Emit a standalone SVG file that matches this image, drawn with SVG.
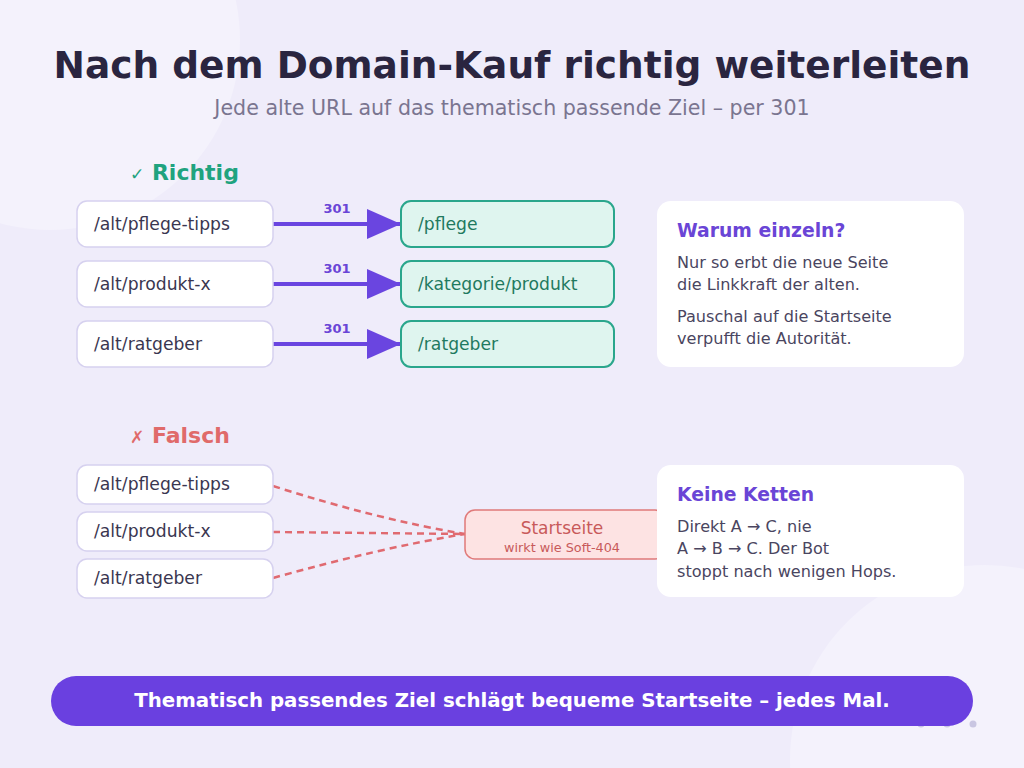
<svg xmlns="http://www.w3.org/2000/svg" width="1024" height="768" viewBox="0 0 1024 768">
<defs>
<style>
text{font-family:"DejaVu Sans","Liberation Sans",sans-serif}
.src rect{fill:#ffffff;stroke:#d6d1ef;stroke-width:1.5}
.src text{font-size:17.2px;fill:#3a3650}
.dst rect{fill:#dff5ef;stroke:#2aa68c;stroke-width:2}
.dst text{font-size:17.2px;fill:#1f7a60}
.card rect{fill:#ffffff}
.card .h{font-size:18.8px;font-weight:bold;fill:#6a45d6}
.card .b{font-size:16.1px;fill:#4a4560}
.lbl{font-size:13px;font-weight:bold;fill:#6a45d6;text-anchor:middle}
.ok{stroke:#6a45e0;stroke-width:4;fill:none}
.bad{stroke:#e06a70;stroke-width:2.5;stroke-dasharray:7 5;fill:none}
</style>
<marker id="ah" markerUnits="userSpaceOnUse" markerWidth="36" markerHeight="30" refX="34" refY="15" orient="auto">
<path d="M0,0 L34,15 L0,30 Z" fill="#6a45e0"/>
</marker>
</defs>
<rect width="1024" height="768" fill="#efecfa"/>
<circle cx="50" cy="40" r="190" fill="#f4f2fc"/>
<circle cx="985" cy="760" r="195" fill="#f4f2fc"/>
<g fill="#c9c6e2"><circle cx="921" cy="724" r="3.5"/><circle cx="947" cy="724" r="3.5"/><circle cx="973" cy="724" r="3.5"/></g>

<text x="512" y="78" text-anchor="middle" font-size="37.5" font-weight="bold" fill="#2a2540">Nach dem Domain-Kauf richtig weiterleiten</text>
<text x="512" y="115" text-anchor="middle" font-size="20.6" fill="#7a7590">Jede alte URL auf das thematisch passende Ziel – per 301</text>

<g id="head-richtig"><text x="130" y="180" font-size="22" font-weight="bold" fill="#1fa37f"><tspan font-size="17" font-weight="normal">✓</tspan> Richtig</text></g>
<g id="head-falsch"><text x="130" y="443" font-size="22" font-weight="bold" fill="#e06a6a"><tspan font-size="17" font-weight="normal">✗</tspan> Falsch</text></g>

<g id="connectors">
<line class="ok" x1="273" y1="224" x2="401" y2="224" marker-end="url(#ah)"/>
<line class="ok" x1="273" y1="284" x2="401" y2="284" marker-end="url(#ah)"/>
<line class="ok" x1="273" y1="344" x2="401" y2="344" marker-end="url(#ah)"/>
<text class="lbl" x="337" y="213">301</text>
<text class="lbl" x="337" y="273">301</text>
<text class="lbl" x="337" y="333">301</text>
<path class="bad" d="M273,486 Q380,520 465,534"/>
<path class="bad" d="M273,532 L465,534"/>
<path class="bad" d="M273,578 Q380,548 465,534"/>
</g>

<g id="r-src1" class="src"><rect x="77" y="201" width="196" height="46" rx="10"/><text x="94" y="230">/alt/pflege-tipps</text></g>
<g id="r-src2" class="src"><rect x="77" y="261" width="196" height="46" rx="10"/><text x="94" y="290">/alt/produkt-x</text></g>
<g id="r-src3" class="src"><rect x="77" y="321" width="196" height="46" rx="10"/><text x="94" y="350">/alt/ratgeber</text></g>

<g id="r-dst1" class="dst"><rect x="401" y="201" width="213" height="46" rx="10"/><text x="418" y="230">/pflege</text></g>
<g id="r-dst2" class="dst"><rect x="401" y="261" width="213" height="46" rx="10"/><text x="418" y="290">/kategorie/produkt</text></g>
<g id="r-dst3" class="dst"><rect x="401" y="321" width="213" height="46" rx="10"/><text x="418" y="350">/ratgeber</text></g>

<g id="f-src1" class="src"><rect x="77" y="465" width="196" height="39" rx="10"/><text x="94" y="490">/alt/pflege-tipps</text></g>
<g id="f-src2" class="src"><rect x="77" y="512" width="196" height="39" rx="10"/><text x="94" y="537">/alt/produkt-x</text></g>
<g id="f-src3" class="src"><rect x="77" y="559" width="196" height="39" rx="10"/><text x="94" y="584">/alt/ratgeber</text></g>

<g id="startseite"><rect x="465" y="510" width="200" height="49" rx="10" fill="#fde3e3" stroke="#e07a7a" stroke-width="1.5"/>
<text x="562" y="534" text-anchor="middle" font-size="17" fill="#c85a5a">Startseite</text>
<text x="562" y="552" text-anchor="middle" font-size="12.8" fill="#c85a5a">wirkt wie Soft-404</text></g>

<g id="card-warum" class="card"><rect x="657" y="201" width="307" height="166" rx="14"/>
<text class="h" x="677" y="237">Warum einzeln?</text>
<text class="b" x="677" y="268">Nur so erbt die neue Seite</text>
<text class="b" x="677" y="290">die Linkkraft der alten.</text>
<text class="b" x="677" y="322">Pauschal auf die Startseite</text>
<text class="b" x="677" y="344">verpufft die Autorität.</text></g>

<g id="card-ketten" class="card"><rect x="657" y="465" width="307" height="132" rx="14"/>
<text class="h" x="677" y="501">Keine Ketten</text>
<text class="b" x="677" y="532">Direkt A → C, nie</text>
<text class="b" x="677" y="554">A → B → C. Der Bot</text>
<text class="b" x="677" y="577">stoppt nach wenigen Hops.</text></g>

<g id="banner"><rect x="51" y="676" width="922" height="50" rx="25" fill="#6a40e0"/>
<text x="512" y="707" text-anchor="middle" font-size="19.8" font-weight="bold" fill="#ffffff">Thematisch passendes Ziel schlägt bequeme Startseite – jedes Mal.</text></g>
</svg>
